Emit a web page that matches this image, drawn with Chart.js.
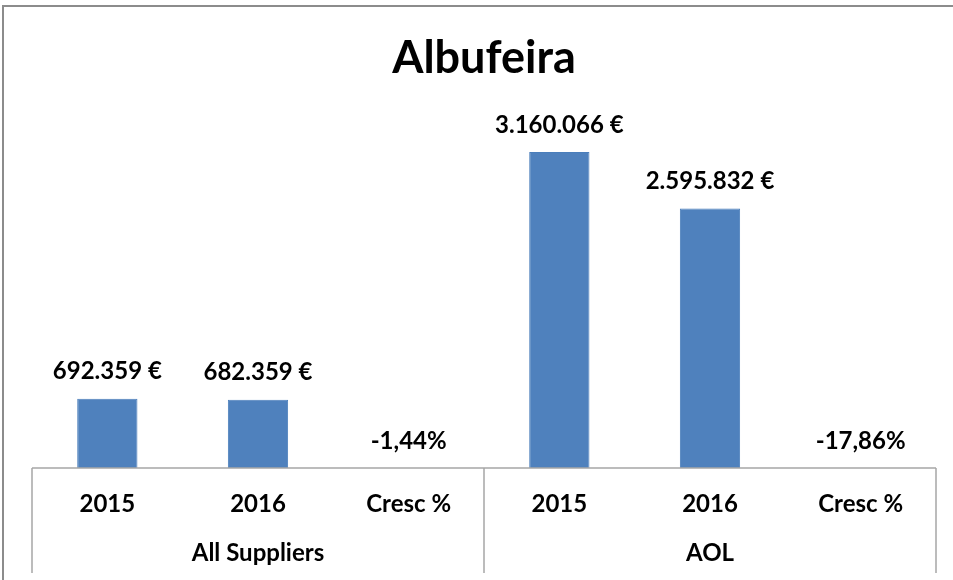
<!DOCTYPE html>
<html lang="pt">
<head>
<meta charset="utf-8">
<title>Albufeira</title>
<script src="https://cdn.jsdelivr.net/npm/chart.js@4"></script>
<style>
    body { margin: 0; background: #fff; }
    #grafico { display: block; }
</style>
</head>
<body>
<canvas id="grafico" width="953" height="580"></canvas>
<script>
// Dados
const categorias = ["2015", "2016", "Cresc %", "2015", "2016", "Cresc %"];
const grupos = ["All Suppliers", "AOL"];
const allSuppliers = [692359, 682359];
const aol = [3160066, 2595832];
const crescimento = [-0.0144, -0.1786];

const valores = [allSuppliers[0], allSuppliers[1], crescimento[0], aol[0], aol[1], crescimento[1]];

const FONTE = "Lato, 'Open Sans', sans-serif";
const CINZA = "#a6a6a6";

// Formata 692359 -> "692.359 €" e -0.0144 -> "-1,44%"
function formatarValor(v, i) {
    if (categorias[i] === "Cresc %") {
        return (v * 100).toFixed(2).replace(".", ",") + "%";
    }
    return String(v).replace(/\B(?=(\d{3})+(?!\d))/g, ".") + " €";
}

// Moldura, eixo com divisões de grupo e rótulos
const pluginDecoracao = {
    id: "decoracao",
    beforeDraw(chart) {
        const ctx = chart.ctx;
        ctx.save();
        ctx.strokeStyle = "#8c8c8c";
        ctx.lineWidth = 2;
        ctx.beginPath();
        ctx.moveTo(3, 580);
        ctx.lineTo(3, 6);
        ctx.lineTo(953, 6);
        ctx.stroke();
        ctx.restore();
    },
    afterDatasetsDraw(chart) {
        const ctx = chart.ctx;
        const x = chart.scales.x;
        const area = chart.chartArea;
        const meta = chart.getDatasetMeta(0);

        ctx.save();
        // rótulos dos valores
        ctx.fillStyle = "#000";
        ctx.font = "bold 24px " + FONTE;
        ctx.textAlign = "center";
        ctx.textBaseline = "middle";
        meta.data.forEach((bar, i) => {
            const topo = Math.min(bar.y, bar.base);
            ctx.fillText(formatarValor(valores[i], i), bar.x, topo - 27);
        });

        // linha de base e divisões
        const fundo = 573;
        const meio = (x.getPixelForValue(2) + x.getPixelForValue(3)) / 2;
        ctx.strokeStyle = CINZA;
        ctx.lineWidth = 1.5;
        ctx.beginPath();
        ctx.moveTo(area.left, area.bottom);
        ctx.lineTo(area.right, area.bottom);
        [area.left, meio, area.right].forEach(px => {
            ctx.moveTo(px, area.bottom);
            ctx.lineTo(px, fundo);
        });
        ctx.stroke();

        // nomes dos grupos
        ctx.font = "bold 24px " + FONTE;
        ctx.fillText(grupos[0], (area.left + meio) / 2, 553);
        ctx.fillText(grupos[1], (meio + area.right) / 2, 553);
        ctx.restore();
    }
};

new Chart(document.getElementById("grafico"), {
    type: "bar",
    data: {
        labels: categorias,
        datasets: [{
            data: valores,
            backgroundColor: "#4f81bd",
            borderColor: "#4a7ebb",
            borderWidth: 1,
            categoryPercentage: 1,
            barPercentage: 0.4
        }]
    },
    options: {
        responsive: false,
        animation: false,
        layout: { padding: { left: 32, right: 17, bottom: 0 } },
        plugins: {
            legend: { display: false },
            tooltip: { enabled: false },
            title: {
                display: true,
                text: "Albufeira",
                color: "#000",
                font: { family: FONTE, size: 45, weight: "bold", lineHeight: 1.2 },
                padding: { top: 31, bottom: 33 }
            }
        },
        scales: {
            x: {
                grid: { display: false },
                border: { display: false },
                ticks: {
                    color: "#000",
                    font: { family: FONTE, size: 24, weight: "bold" },
                    padding: 14,
                    maxRotation: 0
                },
                afterFit(scale) { scale.height = 112; }
            },
            y: {
                display: false,
                min: 0,
                max: 3500000
            }
        }
    },
    plugins: [pluginDecoracao]
});
</script>
</body>
</html>
